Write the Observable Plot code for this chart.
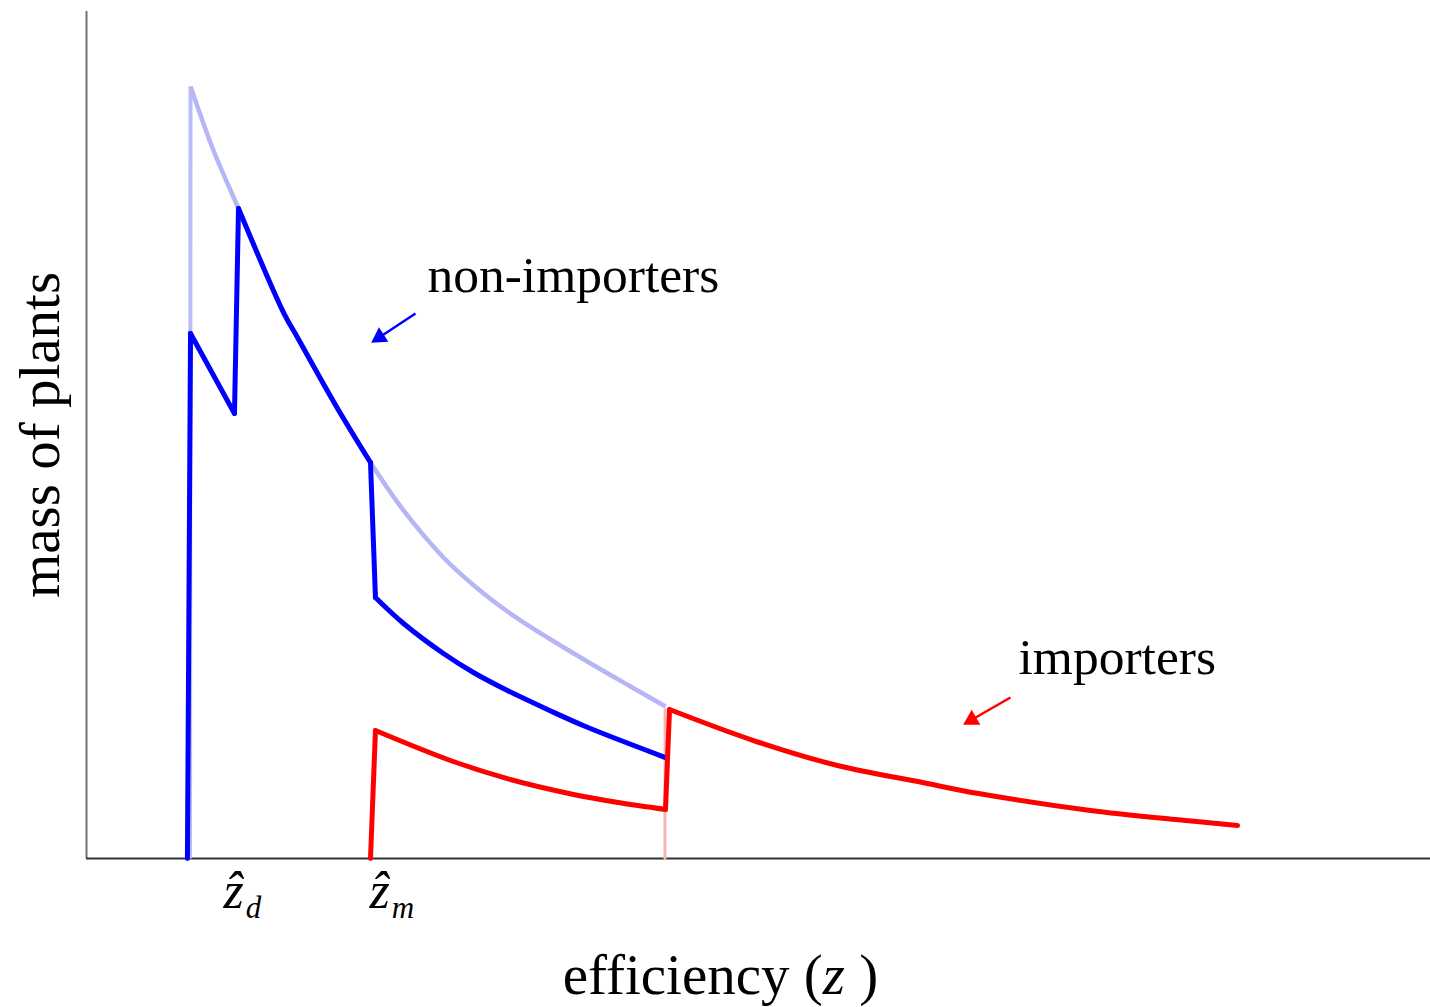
<!DOCTYPE html>
<html><head><meta charset="utf-8">
<script src="https://cdn.jsdelivr.net/npm/d3@7"></script>
<script src="https://cdn.jsdelivr.net/npm/@observablehq/plot@0.6"></script>
<style>body{margin:0;background:#fff} svg{display:block}</style>
</head><body><div id="chart"></div>
<script>
// Envelope (all plants) – light blue
const envelopeZ = [0.770, 0.774, 0.945, 1.131, 1.466, 1.570, 1.868, 2.113, 2.359, 2.656, 2.909, 3.132, 3.430, 3.802, 4.048, 4.308];
const envelopeV = [0.000, 9.115, 8.359, 7.674, 6.446, 6.151, 5.313, 4.675, 4.109, 3.554, 3.188, 2.916, 2.609, 2.255, 2.031, 1.795];
const envelopeJumps = [0];          // indices of straight (jump) segments
// faint pink vertical at the cutoff
const pinkZ = [4.304, 4.305];
const pinkV = [0.000, 1.760];
// Non-importers (blue)
const nonImpZ = [0.751, 0.774, 1.101, 1.131, 1.466, 1.570, 1.868, 2.113, 2.150, 2.359, 2.656, 2.879, 3.132, 3.430, 3.713, 4.308];
const nonImpV = [0.000, 6.198, 5.254, 7.674, 6.446, 6.151, 5.313, 4.675, 3.081, 2.774, 2.420, 2.196, 1.983, 1.759, 1.558, 1.192];
const nonImpJumps = [0, 1, 2, 7];
// Importers (red)
const impZ = [2.113, 2.150, 2.708, 3.125, 3.624, 3.958, 4.308, 4.338, 4.963, 5.588, 6.220, 6.637, 7.470, 8.103, 8.564];
const impV = [0.000, 1.511, 1.157, 0.945, 0.756, 0.661, 0.579, 1.759, 1.393, 1.098, 0.897, 0.767, 0.567, 0.460, 0.390];
const impJumps = [0, 6];
// Threshold labels
const hatLabels = ["d", "m"];
const hatZ = [1.019, 2.106];
// Series labels and arrows
const seriesLabels = ["non-importers", "importers"];
const labelZ = [2.537, 6.935];
const labelV = [6.683, 2.184];
const arrowColors = ["#0000ff", "#ff0000"];
const arrowStartZ = [2.448, 6.875];
const arrowStartV = [6.434, 1.901];
const arrowTipZ = [2.121, 6.525];
const arrowTipV = [6.092, 1.582];
const xTitle = "efficiency (z )";
const yTitle = "mass of plants";

// split a series into straight pieces (jumps) and smooth pieces
function pieces(Z, V, jumps, name) {
  const straight = [], smooth = [];
  let sid = 0, cur = null;
  for (let i = 0; i < Z.length - 1; i++) {
    const a = {z: Z[i], v: V[i]}, b = {z: Z[i + 1], v: V[i + 1]};
    if (jumps.includes(i)) {
      straight.push({...a, seg: name + "s" + i}, {...b, seg: name + "s" + i});
      cur = null;
    } else {
      if (!cur) { cur = name + "c" + (sid++); smooth.push({...a, seg: cur}); }
      smooth.push({...b, seg: cur});
    }
  }
  return {straight, smooth};
}
const env = pieces(envelopeZ, envelopeV, envelopeJumps, "e");
const blue = pieces(nonImpZ, nonImpV, nonImpJumps, "b");
const red = pieces(impZ, impV, impJumps, "r");
const pink = pinkZ.map((z, i) => ({z, v: pinkV[i]}));

const W = 1430, H = 1007, mL = 86, mR = 0, mT = 11, mB = 149;
const sx = d3.scaleLinear([0, 10], [mL, W - mR]);
const sy = d3.scaleLinear([0, 10], [H - mB, mT]);

const arrows = arrowColors.map((c, i) => {
  const x1 = sx(arrowStartZ[i]), y1 = sy(arrowStartV[i]);
  const x2 = sx(arrowTipZ[i]), y2 = sy(arrowTipV[i]);
  const L = Math.hypot(x2 - x1, y2 - y1);
  const ux = (x2 - x1) / L, uy = (y2 - y1) / L;
  const back = 9.5;
  const cx = x2 - ux * back, cy = y2 - uy * back;
  return {
    color: c,
    z1: arrowStartZ[i], v1: arrowStartV[i],
    hz: sx.invert(cx), hv: sy.invert(cy),
    rot: Math.atan2(uy, ux) * 180 / Math.PI + 90
  };
});

const font = "'Liberation Serif', 'Times New Roman', serif";
const lineOpts = (color, w, curve) => ({x: "z", y: "v", z: "seg", stroke: color, strokeWidth: w, curve,
  strokeLinejoin: "miter", strokeMiterlimit: 12, strokeLinecap: "round"});

const plot = Plot.plot({
  width: W, height: H,
  marginLeft: mL, marginRight: mR, marginTop: mT, marginBottom: mB,
  x: {domain: [0, 10], axis: null},
  y: {domain: [0, 10], axis: null},
  style: {fontFamily: font, background: "white", color: "black"},
  marks: [
    Plot.ruleX([0], {stroke: "#707070", strokeWidth: 2}),
    Plot.ruleY([0], {stroke: "#333333", strokeWidth: 2}),
    Plot.line(env.straight, {...lineOpts("#bcbcf7", 4, "linear"), strokeLinecap: "butt"}),
    Plot.line(env.smooth, {...lineOpts("#b6b6f6", 4.5, "catmull-rom"), strokeLinecap: "butt"}),
    Plot.line(pink, {x: "z", y: "v", stroke: "#f7b5b5", strokeWidth: 3}),
    Plot.line(blue.straight, lineOpts("#0000ff", 5, "linear")),
    Plot.line(blue.smooth, lineOpts("#0000ff", 5, "catmull-rom")),
    Plot.line(red.straight, lineOpts("#ff0000", 5, "linear")),
    Plot.line(red.smooth, lineOpts("#ff0000", 5, "catmull-rom")),
    Plot.link(arrows, {x1: "z1", y1: "v1", x2: "hz", y2: "hv", stroke: "color", strokeWidth: 2.5}),
    Plot.dot(arrows, {x: "hz", y: "hv", symbol: "triangle", r: 6.4, fill: "color", stroke: "none", rotate: "rot"}),
    Plot.text(seriesLabels, {x: (d, i) => labelZ[i], y: (d, i) => labelV[i], text: d => d, textAnchor: "start", lineAnchor: "bottom", fontSize: 51.5, fill: "black"}),
    Plot.text(hatLabels, {x: (d, i) => hatZ[i], y: 0, text: d => "\u1E91" + d, textAnchor: "start", lineAnchor: "bottom", dy: 49, fontSize: 52, fontStyle: "italic", fill: "black"}),
    Plot.text([xTitle], {x: 4.717, y: 0, text: d => d, textAnchor: "middle", lineAnchor: "bottom", dy: 135, fontSize: 57, fill: "black"}),
    Plot.text([yTitle], {frameAnchor: "left", text: d => d, rotate: -90, textAnchor: "middle", lineAnchor: "bottom", dx: -28, fontSize: 57, fill: "black"})
  ]
});

// rich text: subscripts and italic z
const NS = "http://www.w3.org/2000/svg";
plot.querySelectorAll("text").forEach(t => {
  const s = t.textContent;
  if (s === xTitle) {
    t.textContent = "";
    const a = document.createElementNS(NS, "tspan"); a.textContent = "efficiency (";
    const b = document.createElementNS(NS, "tspan"); b.textContent = "z"; b.setAttribute("font-style", "italic");
    const c = document.createElementNS(NS, "tspan"); c.textContent = " )";
    t.append(a, b, c);
  } else if (hatLabels.some(h => s === "\u1E91" + h)) {
    const sub = s.slice(1);
    t.textContent = "";
    const a = document.createElementNS(NS, "tspan"); a.textContent = "\u1E91";
    const b = document.createElementNS(NS, "tspan"); b.textContent = sub;
    b.setAttribute("font-size", "31"); b.setAttribute("dy", "10"); b.setAttribute("dx", "2");
    t.append(a, b);
  }
});

document.getElementById("chart").appendChild(plot);
</script>
</body></html>
